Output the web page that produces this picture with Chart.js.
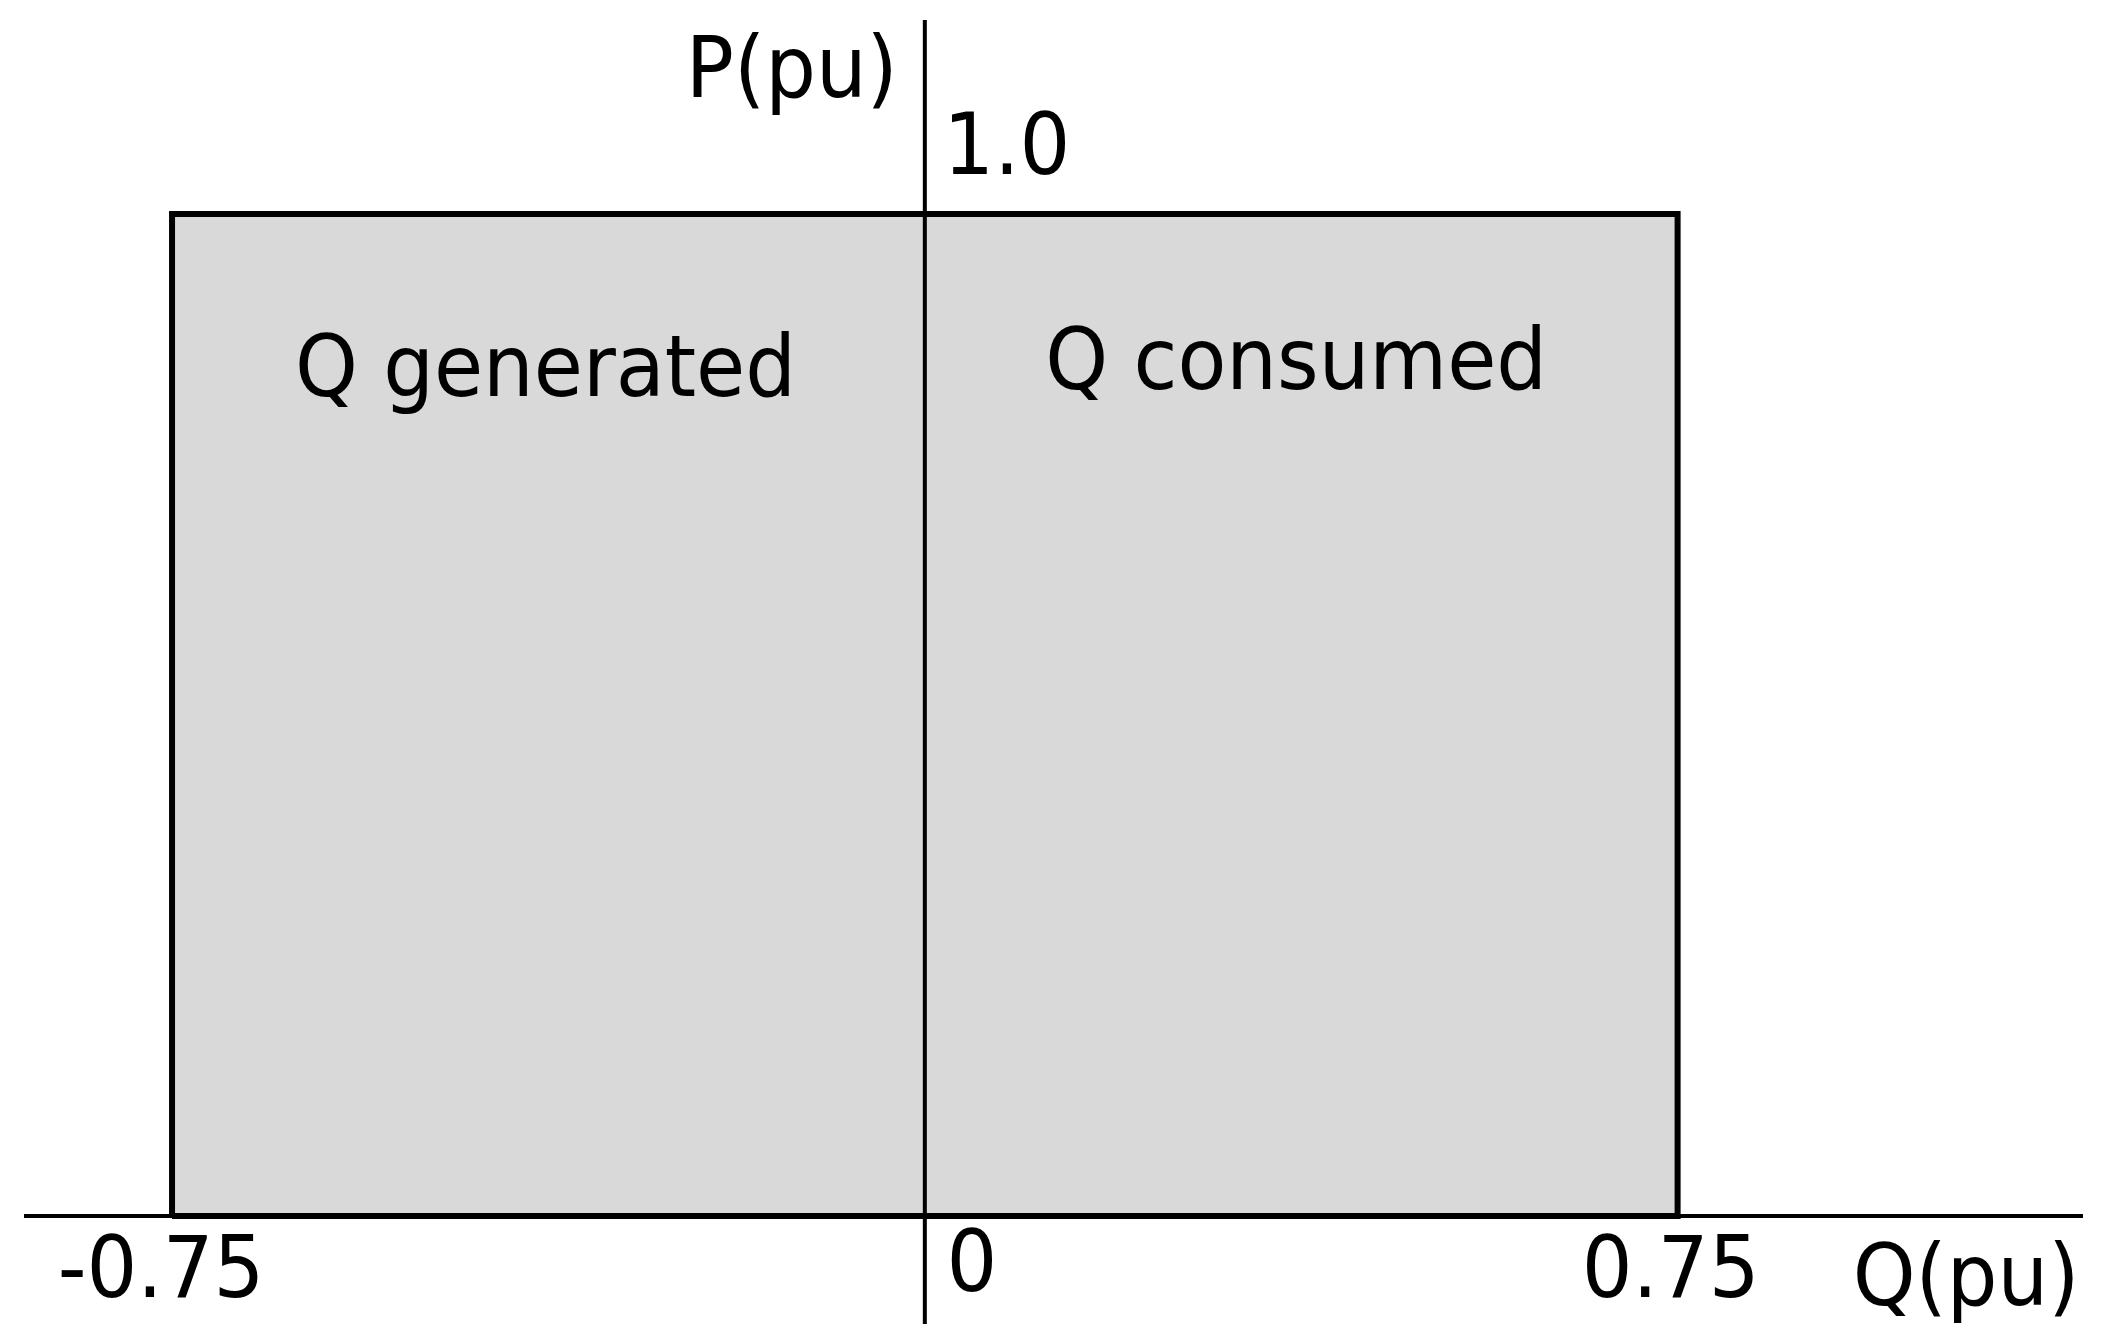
<!DOCTYPE html>
<html>
<head>
<meta charset="utf-8">
<title>PQ capability</title>
<script src="https://cdn.jsdelivr.net/npm/chart.js@4/dist/chart.umd.min.js"></script>
<style>
  html, body { margin: 0; padding: 0; background: #fff; }
  canvas { display: block; }
</style>
</head>
<body>
<canvas id="pqChart" width="2103" height="1339"></canvas>
<script>
// capability box corners (Q, P) in pu
var qValues = [-0.75, -0.75, 0.75, 0.75, -0.75];
var pValues = [0, 1.0, 1.0, 0, 0];

// tick labels
var qTicks = [-0.75, 0, 0.75];
var qTickLabels = ['-0.75', '0', '0.75'];
var pTicks = [1.0];
var pTickLabels = ['1.0'];

// region labels and where they sit
var regionLabels = ['Q generated', 'Q consumed'];
var regionQ = [-0.378, 0.37];
var regionP = [0.818, 0.825];

var FONT = '85px "DejaVu Sans Condensed", "DejaVu Sans", Verdana, sans-serif';

// text a touch wider than the condensed face
function drawText(c, txt, x, y) {
    c.save();
    c.translate(x, y);
    c.scale(1.045, 1);
    c.fillText(txt, 0, 0);
    c.restore();
}

var axesPlugin = {
    id: 'axesPlugin',
    afterDatasetsDraw: function (chart) {
        var c = chart.ctx;
        var xs = chart.scales.x;
        var ys = chart.scales.y;
        var area = chart.chartArea;
        var x0 = xs.getPixelForValue(0);
        var y0 = ys.getPixelForValue(0);

        c.save();
        c.strokeStyle = '#000';
        c.lineWidth = 4;
        c.beginPath();
        c.moveTo(area.left, y0);
        c.lineTo(area.right, y0);
        c.moveTo(x0, area.top);
        c.lineTo(x0, area.bottom);
        c.stroke();

        c.fillStyle = '#000';
        c.font = FONT;
        c.textBaseline = 'alphabetic';
        c.textAlign = 'center';

        // Q ticks under the axis
        for (var i = 0; i < qTicks.length; i++) {
            var px = xs.getPixelForValue(qTicks[i]);
            if (qTicks[i] === 0) {
                drawText(c, qTickLabels[i], px + 47, y0 + 75);
            } else if (qTicks[i] < 0) {
                drawText(c, qTickLabels[i], px - 11, y0 + 81);
            } else {
                drawText(c, qTickLabels[i], px - 7, y0 + 81);
            }
        }

        // P ticks right of the axis
        for (var j = 0; j < pTicks.length; j++) {
            drawText(c, pTickLabels[j], x0 + 82, ys.getPixelForValue(pTicks[j]) - 40);
        }

        // axis titles
        drawText(c, 'P(pu)', x0 - 133, area.top + 77);
        drawText(c, 'Q(pu)', area.right - 117, y0 + 89);

        // region labels
        for (var k = 0; k < regionLabels.length; k++) {
            drawText(c, regionLabels[k], xs.getPixelForValue(regionQ[k]), ys.getPixelForValue(regionP[k]));
        }
        c.restore();
    }
};

var ctx = document.getElementById('pqChart').getContext('2d');

var chart = new Chart(ctx, {
    type: 'line',
    data: {
        datasets: [{
            // black outline (index 0 is drawn on top)
            data: qValues.map(function (q, i) { return { x: q, y: pValues[i] }; }),
            fill: false,
            borderColor: '#000',
            borderWidth: 6,
            pointRadius: 0,
            tension: 0
        }, {
            // grey area: top edge filled down to P = 0
            data: [{ x: qValues[1], y: pValues[1] }, { x: qValues[2], y: pValues[2] }],
            fill: 'origin',
            backgroundColor: '#d9d9d9',
            borderColor: 'rgba(0,0,0,0)',
            borderWidth: 0,
            pointRadius: 0,
            tension: 0
        }]
    },
    options: {
        responsive: false,
        animation: false,
        devicePixelRatio: 1,
        layout: {
            padding: { left: 24, right: 20, top: 20, bottom: 15 }
        },
        plugins: {
            legend: { display: false },
            tooltip: { enabled: false }
        },
        scales: {
            x: { type: 'linear', min: -0.8975, max: 1.1539, display: false },
            y: { type: 'linear', min: -0.1078, max: 1.1936, display: false }
        }
    },
    plugins: [axesPlugin]
});
</script>
</body>
</html>
